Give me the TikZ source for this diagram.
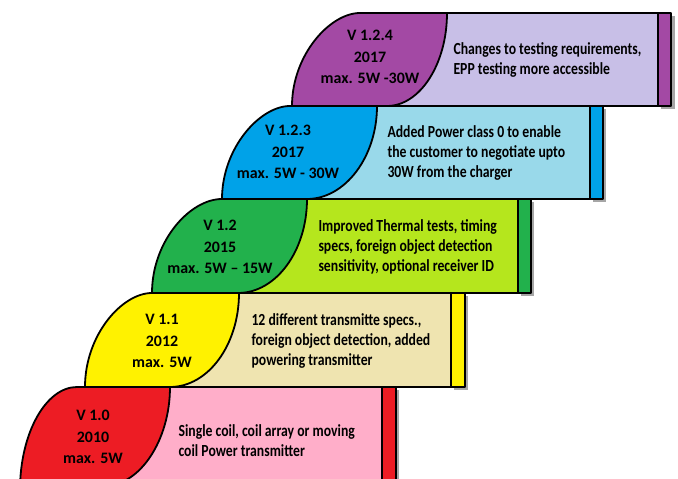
\documentclass[tikz,border=0pt]{standalone}
\usepackage{fontspec}
\setmainfont{Carlito}
\newfontfamily\narrowfont[FakeStretch=0.81]{Carlito}
\usepackage{tikz}
\definecolor{purpledark}{HTML}{A349A4}
\definecolor{purplelight}{HTML}{C8BFE7}
\definecolor{bluedark}{HTML}{00A2E8}
\definecolor{bluelight}{HTML}{99D9EA}
\definecolor{greendark}{HTML}{22B14C}
\definecolor{greenlight}{HTML}{B5E61D}
\definecolor{yellowdark}{HTML}{FFF200}
\definecolor{yellowlight}{HTML}{EFE4B0}
\definecolor{reddark}{HTML}{ED1C24}
\definecolor{redlight}{HTML}{FFAEC9}
\tikzset{
x=1bp, y=-1bp, % pixel grid, y pointing down
outline/.style={draw=black, line width=1.8bp, line join=round},
shadow/.style={fill=black!35},
version/.style={align=center, font=\bfseries\fontsize{16}{21.7}\selectfont},
changes/.style={anchor=west, align=left, font=\narrowfont\bfseries\fontsize{17}{20}\selectfont},
}

\begin{document}
\begin{tikzpicture}
\clip (0,0) rectangle (678,479);
% V 1.2.4
\fill[shadow] (661,16) rectangle (675,109);
\draw[outline, fill=purplelight] (387,13) rectangle (658,106);
\draw[outline, fill=purpledark] (658,13) rectangle (671,106);
\draw[outline, fill=purpledark] (292,106) .. controls (292,55) and (330,13) .. (360,13)
  -- (447,13) .. controls (447,64) and (420,106) .. (387,106) -- cycle;
\node[version] (v124) at (370,57) {V 1.2.4\\2017\\max. 5W -30W};
\node[changes] (c124) at (450,60) {Changes to testing requirements,\\EPP testing more accessible};
% V 1.2.3
\fill[shadow] (593,109) rectangle (606,202);
\draw[outline, fill=bluelight] (307,106) rectangle (590,199);
\draw[outline, fill=bluedark] (590,106) rectangle (603,199);
\draw[outline, fill=bluedark] (222,199) .. controls (222,148) and (260,106) .. (290,106)
  -- (377,106) .. controls (377,157) and (345,199) .. (307,199) -- cycle;
\node[version] (v123) at (288,152) {V 1.2.3\\2017\\max. 5W - 30W};
\node[changes] (c123) at (384,153) {Added Power class 0 to enable\\the customer to negotiate upto\\30W from the charger};
% V 1.2
\fill[shadow] (521,202) rectangle (534,296);
\draw[outline, fill=greenlight] (238,199) rectangle (518,293);
\draw[outline, fill=greendark] (518,199) rectangle (531,293);
\draw[outline, fill=greendark] (152,293) .. controls (152,241) and (190,199) .. (222,199)
  -- (307,199) .. controls (307,251) and (276,293) .. (238,293) -- cycle;
\node[version] (v12) at (220,247) {V 1.2\\2015\\max. 5W -- 15W};
\node[changes] (c12) at (315,247) {Improved Thermal tests, timing\\specs, foreign object detection\\sensitivity, optional receiver ID};
% V 1.1
\fill[shadow] (454,296) rectangle (468,390);
\draw[outline, fill=yellowlight] (170,293) rectangle (451,387);
\draw[outline, fill=yellowdark] (451,293) rectangle (465,387);
\draw[outline, fill=yellowdark] (85,387) .. controls (85,335) and (122,293) .. (152,293)
  -- (239,293) .. controls (239,345) and (208,387) .. (170,387) -- cycle;
\node[version] (v11) at (162,341) {V 1.1\\2012\\max. 5W};
\node[changes] (c11) at (248,341) {12 different transmitte specs.,\\foreign object detection, added\\powering transmitter};
% V 1.0
\fill[shadow] (385,390) rectangle (399,490);
\draw[outline, fill=redlight] (104,387) rectangle (382,486);
\draw[outline, fill=reddark] (382,387) rectangle (396,486);
\draw[outline, fill=reddark] (20,490) .. controls (20,433) and (46,387) .. (77,387)
  -- (170,387) .. controls (170,440) and (140,486) .. (104,486) -- cycle;
\node[version] (v10) at (93,437) {V 1.0\\2010\\max. 5W};
\node[changes] (c10) at (175,441) {Single coil, coil array or moving\\coil Power transmitter};
\end{tikzpicture}
\end{document}
